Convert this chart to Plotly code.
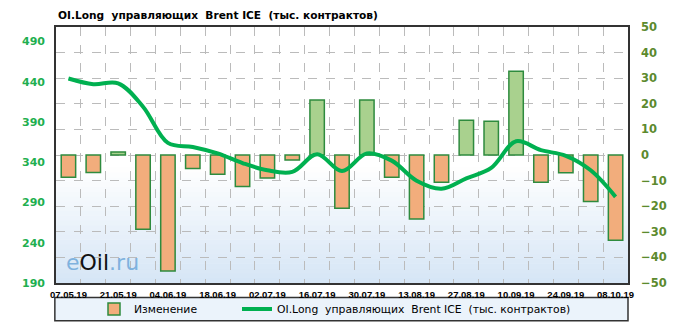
import plotly.graph_objects as go

dates = ["07.05.19","14.05.19","21.05.19","28.05.19","04.06.19","11.06.19","18.06.19","25.06.19",
         "02.07.19","09.07.19","16.07.19","23.07.19","30.07.19","06.08.19","13.08.19","20.08.19",
         "27.08.19","03.09.19","10.09.19","17.09.19","24.09.19","01.10.19","08.10.19"]
change = [-8.7, -6.8, 1.2, -29, -45.3, -5.3, -7.5, -12.3, -9, -2, 21.5, -20.8, 21.5, -8.7,
          -25, -10.6, 13.6, 13.2, 32.7, -10.6, -6.9, -18.2, -33.3]
oi_long = [444, 437, 438, 409, 364, 359, 351, 339, 330, 328, 350, 329, 351, 342, 317, 307,
           320, 333, 366, 355, 348, 330, 297]
left_ticks = [190, 240, 290, 340, 390, 440, 490]
right_ticks = [-50, -40, -30, -20, -10, 0, 10, 20, 30, 40, 50]

x = list(range(len(dates)))
bar_colors = ["#A9D18E" if v >= 0 else "#F2AD7C" for v in change]

fig = go.Figure()
fig.add_trace(go.Bar(
    x=x, y=change, width=0.58, name="Изменение",
    marker=dict(color=bar_colors, line=dict(color="#2E8B3E", width=1.5)),
    yaxis="y", showlegend=True, legend="legend",
))
fig.add_trace(go.Scatter(
    x=x, y=oi_long, mode="lines", name="OI.Long  управляющих  Brent ICE  (тыс. контрактов)",
    line=dict(color="#00B050", width=4, shape="spline", smoothing=1),
    yaxis="y2", legend="legend2",
))

# background gradient (style only)
shapes = []
n = 24
top_c = (255, 255, 255)
bot_c = (214, 230, 246)
for i in range(n):
    t0 = i / n
    c = tuple(int(bot_c[k] + (top_c[k] - bot_c[k]) * (i + 0.5) / n) for k in range(3))
    shapes.append(dict(type="rect", xref="paper", yref="paper", x0=0, x1=1,
                       y0=t0 * 0.45, y1=(t0 + 1 / n) * 0.45 + 0.002,
                       fillcolor="rgb(%d,%d,%d)" % c, line=dict(width=0), layer="below"))
# legend box
shapes.append(dict(type="rect", xref="paper", yref="paper", x0=-0.002, x1=1.0,
                   y0=-0.147, y1=-0.057, fillcolor="rgba(235,243,251,1)",
                   line=dict(color="#333333", width=1.5), layer="below"))

leg_common = dict(orientation="h", y=-0.102, yanchor="middle", xanchor="left",
                  bgcolor="rgba(0,0,0,0)", font=dict(size=10.8, family="DejaVu Sans"),
                  borderwidth=0)

fig.update_layout(
    width=680, height=336,
    margin=dict(l=56, r=52, t=27, b=44),
    paper_bgcolor="white", plot_bgcolor="rgba(0,0,0,0)",
    font=dict(family="DejaVu Sans", color="black"),
    title=dict(text="<b>OI.Long  управляющих  Brent ICE  (тыс. контрактов)</b>",
               x=58 / 680, xanchor="left", y=1 - 15 / 336, yanchor="middle",
               font=dict(size=10.6, family="DejaVu Sans", color="black")),
    shapes=shapes,
    bargap=0.4,
    showlegend=True,
    legend=dict(x=(94 - 56) / 572, **leg_common),
    legend2=dict(x=(237 - 56) / 572, **leg_common),
    xaxis=dict(range=[-0.5, 22.5], tickvals=x[::2], ticktext=dates[::2],
               showgrid=False, zeroline=False, ticks="", ticklabelstandoff=2,
               tickfont=dict(size=9.5, family="Liberation Sans", color="black", weight="bold"),
               showline=True, linecolor="#333333", linewidth=1.5, mirror=True,
               minor=dict(tickvals=[v + 0.5 for v in x[:-1]], showgrid=True,
                          gridcolor="#BBBBBB", griddash="dash", gridwidth=1, ticks="")),
    yaxis=dict(range=[-50, 50], side="right", tickvals=right_ticks,
               showgrid=True, gridcolor="#BBBBBB", griddash="dash", gridwidth=1,
               zeroline=False, ticks="", ticklabelstandoff=9,
               tickfont=dict(size=11.5, family="DejaVu Sans", color="#5C8A2E", weight="bold"),
               showline=True, linecolor="#333333", linewidth=1.5, mirror=True),
    yaxis2=dict(range=[190, 508], side="left", overlaying="y", tickvals=left_ticks,
                showgrid=False, zeroline=False, ticks="", ticklabelstandoff=10,
                tickfont=dict(size=11, family="DejaVu Sans", color="#1FAF50", weight="bold")),
    annotations=[dict(text="<span style='color:#7FB2DE'>e</span><span style='color:#111'>Oil</span><span style='color:#7FB2DE'>.ru</span>",
                      xref="paper", yref="paper", x=(64 - 56) / 572, y=(292 - 271) / 265,
                      xanchor="left", yanchor="middle", showarrow=False,
                      font=dict(size=22, family="DejaVu Sans"))],
)

fig.write_html("out.html")
